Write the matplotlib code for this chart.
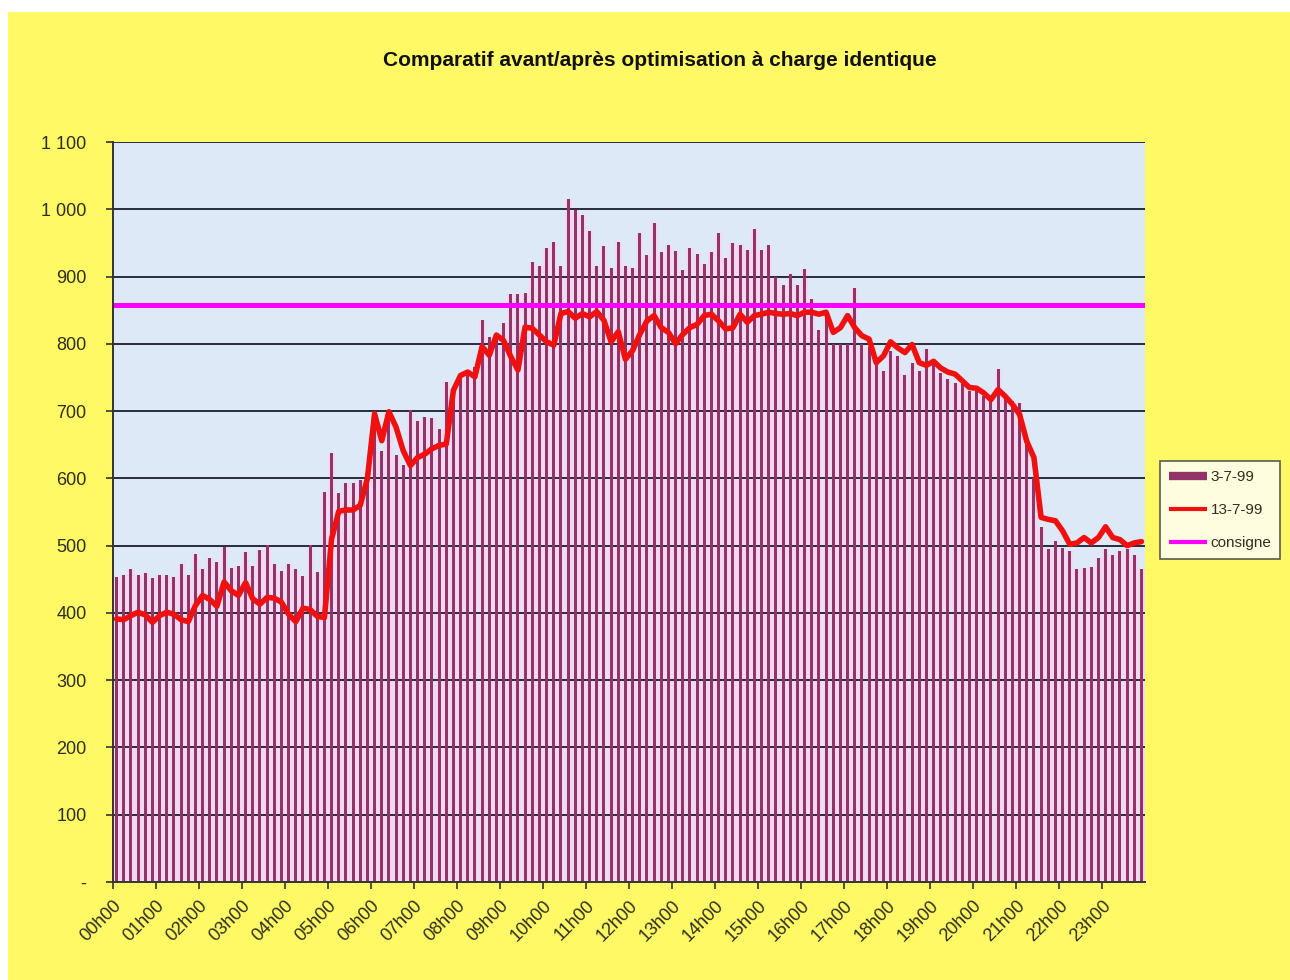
import numpy as np
import matplotlib
matplotlib.use("Agg")
import matplotlib.pyplot as plt
from matplotlib.lines import Line2D
from matplotlib.patches import Rectangle
from matplotlib.ticker import FuncFormatter, MultipleLocator

plt.rcParams["font.family"] = ["Liberation Sans", "DejaVu Sans"]

# 10-minute samples over the day (144 per series)
before_3_7_99 = [
    453, 457, 465, 457, 460, 452, 457, 457, 453, 472, 457, 487,
    466, 481, 475, 498, 467, 470, 490, 470, 493, 501, 472, 462,
    473, 465, 455, 501, 461, 579, 637, 578, 593, 593, 597, 598,
    695, 640, 690, 635, 620, 702, 686, 691, 689, 674, 743, 733,
    748, 753, 766, 835, 810, 810, 831, 874, 874, 875, 921, 915,
    942, 952, 915, 1015, 999, 991, 967, 915, 946, 912, 952, 916,
    913, 964, 932, 979, 937, 947, 938, 909, 942, 934, 919, 936,
    965, 928, 950, 947, 939, 970, 939, 947, 899, 888, 904, 888,
    911, 866, 820, 845, 800, 800, 800, 883, 800, 795, 770, 760,
    789, 782, 754, 772, 759, 792, 774, 757, 747, 742, 740, 730,
    732, 722, 715, 762, 720, 715, 712, 650, 600, 527, 495, 507,
    497, 492, 465, 467, 468, 481, 495, 486, 492, 495, 486, 465,
]
after_13_7_99 = [
    391, 390, 396, 401, 397, 386, 396, 401, 398, 390, 387, 411,
    426, 420, 410, 446, 433, 426, 445, 421, 413, 423, 422, 416,
    398, 387, 407, 405, 395, 393, 510, 551, 553, 553, 560, 600,
    696, 656, 699, 676, 641, 619, 631, 636, 644, 649, 651, 731,
    753, 758, 751, 796, 783, 813, 805, 781, 761, 825, 823, 813,
    803, 798, 845, 848, 838, 845, 840, 848, 835, 803, 818, 777,
    790, 814, 834, 842, 824, 817, 800, 814, 824, 829, 842, 844,
    834, 822, 824, 844, 832, 842, 844, 847, 845, 844, 845, 842,
    847, 847, 844, 847, 817, 824, 842, 824, 812, 807, 772, 782,
    803, 794, 787, 799, 772, 768, 774, 764, 758, 755, 745, 735,
    734, 727, 717, 732, 722, 710, 695, 655, 631, 542, 539, 537,
    522, 502, 504, 512, 504, 512, 528, 512, 509, 500, 504, 506,
]
consigne = 857
hour_labels = ["%02dh00" % h for h in range(24)]

BAR_COLOR = "#933468"
GAP_PINK = "#f2d8f0"
RED = "#f01010"
MAGENTA = "#ff00ff"
TXT = "#2e2e1e"

fig = plt.figure(figsize=(12.9, 9.8), dpi=100, facecolor="white")
fig.patches.append(Rectangle((8 / 1290, 0), 1, 1 - 12 / 980,
                             transform=fig.transFigure, facecolor="#fff966",
                             edgecolor="none", zorder=-10))

ax = fig.add_axes([113 / 1290, 1 - 882 / 980, (1145 - 113) / 1290, (882 - 142) / 980])
ax.set_facecolor("#dde9f6")

x = np.arange(len(before_3_7_99))
# pale halo between the bars, as in the printed chart
ax.bar(x, before_3_7_99, width=1.0, color=GAP_PINK, zorder=1)
for v in range(100, 1101, 100):
    ax.axhline(v, color="#2b2b3a", linewidth=1.4, zorder=1.5)
ax.bar(x, before_3_7_99, width=0.42, color=BAR_COLOR, zorder=2)
ax.plot(x, after_13_7_99, color=RED, linewidth=4.0, solid_joinstyle="round",
        solid_capstyle="round", zorder=4)
ax.axhline(consigne, color=MAGENTA, linewidth=3.6, zorder=3)

ax.set_ylim(0, 1100)
ax.set_xlim(-0.5, len(x) - 0.5)
ax.yaxis.set_major_locator(MultipleLocator(100))
ax.yaxis.set_major_formatter(FuncFormatter(
    lambda v, p: "-" if v == 0 else "{:,}".format(int(v)).replace(",", " ")))

ax.set_xticks(np.arange(24) * 6 - 0.5)
ax.set_xticklabels(hour_labels, rotation=45, ha="right", rotation_mode="anchor")
ax.tick_params(axis="x", length=5, width=1.2, color="#333333", labelsize=13,
               labelcolor=TXT, pad=6)
ax.tick_params(axis="y", length=5, width=1.2, color="#333333", labelsize=13,
               labelcolor=TXT, pad=14)

for s in ["top", "right"]:
    ax.spines[s].set_visible(False)
for s in ["left", "bottom"]:
    ax.spines[s].set_color("#333333")
    ax.spines[s].set_linewidth(1.4)
    ax.spines[s].set_zorder(5)

fig.text(660 / 1290, 1 - 60 / 980, "Comparatif avant/après optimisation à charge identique",
         ha="center", va="center", fontsize=15, fontweight="bold", color="#111111")

handles = [Line2D([], [], color=BAR_COLOR, linewidth=6, solid_capstyle="butt"),
           Line2D([], [], color=RED, linewidth=3, solid_capstyle="butt"),
           Line2D([], [], color=MAGENTA, linewidth=3, solid_capstyle="butt")]
leg = fig.legend(handles, ["3-7-99", "13-7-99", "consigne"],
                 loc="center left", bbox_to_anchor=(1160 / 1290, 1 - 510 / 980),
                 fontsize=11, frameon=True, fancybox=False, handlelength=2.5,
                 handletextpad=0.2, borderpad=0.6, labelspacing=1.25,
                 borderaxespad=0)
for t in leg.get_texts():
    t.set_color(TXT)
leg.get_frame().set_edgecolor("#333333")
leg.get_frame().set_linewidth(1.2)
leg.get_frame().set_facecolor("white")

fig.savefig("out.png", dpi=100, facecolor=fig.get_facecolor())
